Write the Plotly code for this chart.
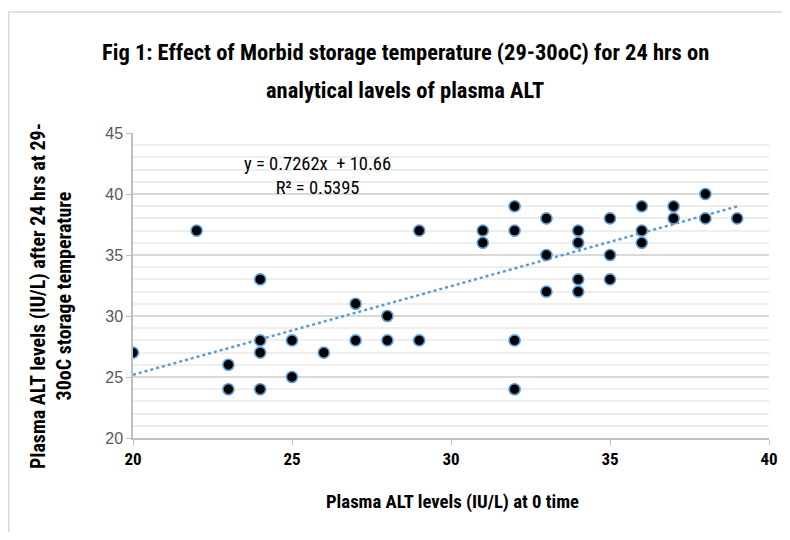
import numpy as np
import plotly.graph_objects as go

# Data
alt_0h = [20, 22, 23, 23, 24, 24, 24, 24, 25, 25, 26, 27, 27, 28, 28, 29, 29,
          31, 31, 32, 32, 32, 32, 33, 33, 33, 34, 34, 34, 34, 35, 35, 35,
          36, 36, 36, 37, 37, 38, 38, 39]
alt_24h = [27, 37, 26, 24, 33, 28, 27, 24, 28, 25, 27, 31, 28, 30, 28, 37, 28,
           37, 36, 39, 37, 28, 24, 38, 35, 32, 37, 36, 33, 32, 38, 35, 33,
           39, 37, 36, 39, 38, 40, 38, 38]
slope = 0.7262
intercept = 10.66
r_squared = 0.5395
x_ticks = [20, 25, 30, 35, 40]
y_ticks = [20, 25, 30, 35, 40, 45]
title_lines = ["Fig 1: Effect of Morbid storage temperature (29-30oC) for 24 hrs on",
               "analytical lavels of plasma ALT"]

FONT = "Roboto Condensed, Open Sans Condensed, sans-serif"

# The page body has an 8px margin: figure is sized to fit the window exactly.
W, H = 774, 524
PL, PR, PT, PB = 133, 769, 133, 438  # plot area in window pixels


def px(xw):
    return (xw - PL) / (PR - PL)


def py(yw):
    return (PB - yw) / (PB - PT)


trend_x = np.array([min(alt_0h), max(alt_0h)], dtype=float)
trend_y = slope * trend_x + intercept

fig = go.Figure()
fig.add_trace(go.Scatter(
    x=trend_x, y=trend_y, mode="lines",
    line=dict(color="#5B9BD5", width=2.5, dash="dot"),
    hoverinfo="skip", showlegend=False))
fig.add_trace(go.Scatter(
    x=alt_0h, y=alt_24h, mode="markers",
    marker=dict(size=11, color="black", line=dict(color="#5B9BD5", width=1.6)),
    showlegend=False))

fig.update_layout(
    width=W, height=H,
    margin=dict(l=PL - 8, r=W - (PR - 8), t=PT - 8, b=H - (PB - 8), autoexpand=False),
    paper_bgcolor="white", plot_bgcolor="white",
    font=dict(family=FONT, color="black"),
    xaxis=dict(range=[20, 40], tickvals=x_ticks, showgrid=False, zeroline=False,
               automargin=False,
               showline=True, linecolor="#BFBFBF", linewidth=1.5,
               ticks="outside", ticklen=5, tickcolor="#BFBFBF",
               tickfont=dict(family=FONT, size=17, color="black", weight="bold")),
    yaxis=dict(range=[20, 45], tickvals=y_ticks, showgrid=True, automargin=False,
               gridcolor="#D9D9D9", gridwidth=1.5, zeroline=False,
               showline=True, linecolor="#BFBFBF", linewidth=1.5,
               ticks="outside", ticklen=5, tickcolor="#BFBFBF",
               tickfont=dict(family="Liberation Sans, Arial, sans-serif", size=16, color="#595959"),
               minor=dict(dtick=1, showgrid=True, gridcolor="#EEEEEE", gridwidth=1.5)),
)

# Title (two lines, Excel-like spacing)
for line, (xc, yc) in zip(title_lines, [(405, 52), (405, 90)]):
    fig.add_annotation(
        xref="paper", yref="paper", x=px(xc), y=py(yc),
        text=f"<b>{line}</b>", showarrow=False,
        font=dict(family=FONT, size=22.5, color="black"),
        xanchor="center", yanchor="middle")

# Axis titles
fig.add_annotation(
    xref="paper", yref="paper", x=px(452), y=py(502),
    text="<b>Plasma ALT levels (IU/L) at 0 time</b>", showarrow=False,
    font=dict(family=FONT, size=18.7, color="black"), xanchor="center", yanchor="middle")
fig.add_annotation(
    xref="paper", yref="paper", x=px(51), y=py(296),
    text="<b>Plasma ALT levels (IU/L) after 24 hrs at 29-<br>30oC storage temperature</b>",
    showarrow=False, textangle=-90,
    font=dict(family=FONT, size=20, color="black"), xanchor="center", yanchor="middle")

# Trendline equation
fig.add_annotation(
    xref="x", yref="y", x=25.8, y=41.5,
    text=f"y = {slope}x  + {intercept}<br>R² = {r_squared}", showarrow=False,
    font=dict(family=FONT, size=18.5, color="black"), align="center",
    xanchor="center", yanchor="middle")

# Outer chart frame
fig.add_shape(type="rect", xref="paper", yref="paper",
              x0=px(8.8), x1=px(800), y0=py(560), y1=py(12),
              line=dict(color="#D9D9D9", width=1.5), layer="below")

fig.write_html("out.html")
